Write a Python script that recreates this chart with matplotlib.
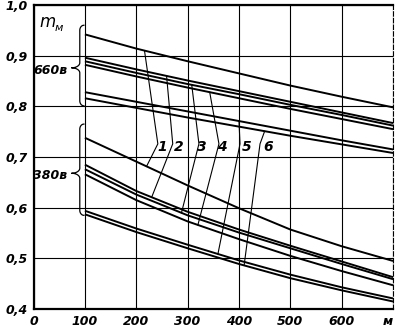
import numpy as np
import matplotlib
matplotlib.use('Agg')
import matplotlib.pyplot as plt

# ─────────────────────────────────────────────
# Data (x in m, y = m_M)
# ─────────────────────────────────────────────
x = [100, 200, 300, 400, 500, 600, 700]

# 660 V group, curves 1..6 (top to bottom)
u660 = [
    [0.942, 0.914, 0.889, 0.865, 0.841, 0.819, 0.798],
    [0.896, 0.873, 0.851, 0.830, 0.809, 0.788, 0.767],
    [0.889, 0.866, 0.844, 0.824, 0.803, 0.783, 0.762],
    [0.882, 0.859, 0.837, 0.816, 0.795, 0.775, 0.755],
    [0.828, 0.809, 0.790, 0.771, 0.752, 0.733, 0.715],
    [0.816, 0.797, 0.778, 0.760, 0.742, 0.725, 0.708],
]

# 380 V group, curves 1..6
u380 = [
    [0.738, 0.691, 0.644, 0.599, 0.557, 0.524, 0.495],
    [0.685, 0.633, 0.592, 0.557, 0.525, 0.494, 0.463],
    [0.676, 0.626, 0.585, 0.551, 0.520, 0.489, 0.459],
    [0.666, 0.615, 0.573, 0.538, 0.505, 0.475, 0.447],
    [0.594, 0.559, 0.527, 0.496, 0.468, 0.443, 0.421],
    [0.587, 0.552, 0.520, 0.489, 0.461, 0.437, 0.415],
]

curve_labels = ['1', '2', '3', '4', '5', '6']
label_x = [251, 283, 327, 366, 415, 456]
# where each leader touches the upper / lower curve, and where it bends
lead_up_x = [216, 259, 308, 343, 400, 450]
lead_bend_x = [242, 271, 322, 361, 402, 441]
lead_dn_x = [220, 230, 288, 320, 359, 410]

xticks = [0, 100, 200, 300, 400, 500, 600, 700]
xtick_labels = ['0', '100', '200', '300', '400', '500', '600', 'м']
yticks = [0.4, 0.5, 0.6, 0.7, 0.8, 0.9, 1.0]
ytick_labels = ['0,4', '0,5', '0,6', '0,7', '0,8', '0,9', '1,0']

tfont = dict(family='DejaVu Sans', style='italic', fontweight='bold')


# curly brace, tip pointing left
def brace(ax, xb, y0, y1, ytip, depth, curl=8, h=0.010):
    t = np.linspace(0, np.pi / 2, 20)
    # top end curl -> straight -> tip
    top_curl_x = xb + curl * (1 - np.sin(t))
    top_curl_y = y1 - h * (1 - np.cos(t))
    tip_a_x = xb - depth * (1 - np.cos(t))
    tip_a_y = ytip + h * (1 - np.sin(t))
    tip_b_x = tip_a_x[::-1]
    tip_b_y = ytip - h * (1 - np.sin(t[::-1]))
    bot_curl_x = (xb + curl * (1 - np.sin(t)))[::-1]
    bot_curl_y = (y0 + h * (1 - np.cos(t)))[::-1]
    xs = np.concatenate([top_curl_x, tip_a_x, tip_b_x, bot_curl_x])
    ys = np.concatenate([top_curl_y, tip_a_y, tip_b_y, bot_curl_y])
    ax.plot(xs, ys, color='black', lw=0.9, clip_on=False)


fig = plt.figure(figsize=(3.95, 3.32), dpi=100)
ax = fig.add_axes([0.085, 0.069, 0.910, 0.916])

for ys in u660 + u380:
    ax.plot(x, ys, color='black', lw=1.4, solid_capstyle='butt')

# leader lines from curve numbers to both groups
lab_y = 0.720
bend_y = 0.726
for i, lab in enumerate(curve_labels):
    yu = np.interp(lead_up_x[i], x, u660[i])
    yd = np.interp(lead_dn_x[i], x, u380[i])
    ax.plot([lead_up_x[i], lead_bend_x[i], lead_dn_x[i]], [yu, bend_y, yd],
            color='black', lw=0.8)
    ax.text(label_x[i], lab_y, lab, ha='center', va='center', fontsize=10, **tfont)

brace(ax, 90, 0.801, 0.960, 0.876, 16)
brace(ax, 90, 0.585, 0.765, 0.668, 16)
ax.text(32, 0.871, '660в', ha='center', va='center', fontsize=9, **tfont)
ax.text(32, 0.664, '380в', ha='center', va='center', fontsize=9, **tfont)
ax.text(28, 0.967, 'm', ha='center', va='center', fontsize=12,
        family='DejaVu Sans', style='italic')
ax.text(50, 0.955, 'м', ha='center', va='center', fontsize=8,
        family='DejaVu Sans', style='italic')

ax.set_xlim(0, 700)
ax.set_ylim(0.4, 1.0)
ax.set_xticks(xticks)
ax.set_xticklabels(xtick_labels, fontsize=9, **tfont)
ax.get_xticklabels()[-1].set_horizontalalignment('right')
ax.set_yticks(yticks)
ax.set_yticklabels(ytick_labels, fontsize=9, **tfont)
ax.tick_params(length=0, pad=4)
ax.grid(True, color='black', lw=0.8)

for side in ['left', 'bottom', 'top']:
    ax.spines[side].set_linewidth(1.6)
ax.spines['right'].set_linewidth(0.8)
ax.spines['right'].set_linestyle((0, (4, 2)))

plt.savefig('out.png', dpi=100, facecolor='white')
plt.close(fig)
